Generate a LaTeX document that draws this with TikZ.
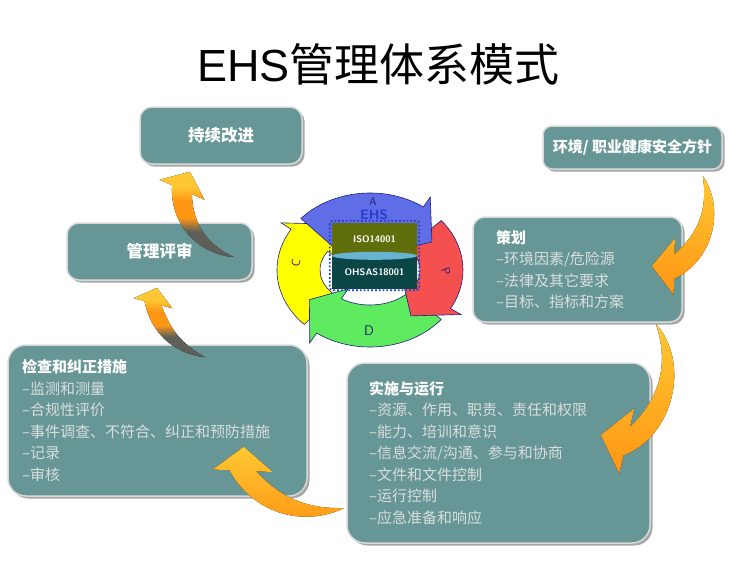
\documentclass[tikz,border=0pt]{standalone}
\usepackage{fontspec}
\setmainfont{Liberation Sans}
\newfontfamily\cjk{Noto Sans CJK SC}
\usepackage{tikz}
\usetikzlibrary{calc}
\usetikzlibrary{shadows}
\definecolor{boxteal}{RGB}{102,150,150}
\definecolor{bodytext}{RGB}{218,222,222}
\definecolor{swyellow}{RGB}{255,200,50}
\definecolor{sworange}{RGB}{255,150,20}
\definecolor{swgray}{RGB}{95,95,90}
\definecolor{ringblue}{RGB}{95,110,230}
\definecolor{ringred}{RGB}{245,80,80}
\definecolor{ringgreen}{RGB}{95,235,95}
\definecolor{ringyellow}{RGB}{255,255,0}
\definecolor{ringline}{RGB}{30,30,120}
\definecolor{isodark}{RGB}{95,110,10}
\definecolor{isolight}{RGB}{185,205,60}
\definecolor{ohsasdark}{RGB}{10,70,70}
\definecolor{ohsaslight}{RGB}{50,170,170}
\definecolor{ehsblue}{RGB}{40,60,200}
\pgfdeclareverticalshading{swooshgray}{100bp}{color(0bp)=(swgray); color(25bp)=(swgray);
  color(40bp)=(swgray); color(48bp)=(sworange); color(58bp)=(sworange); color(66bp)=(swyellow);
  color(75bp)=(swyellow); color(100bp)=(swyellow)}

\tikzset{
  box/.style={draw=gray!30, line width=1.5pt, fill=boxteal, rounded corners=12pt,
    text=white, font=\cjk\fontsize{15}{21.5}\selectfont,
    drop shadow={shadow xshift=2.5pt, shadow yshift=-2.5pt, fill=black, opacity=0.35}},
  ring/.style={draw=ringline, line width=0.6pt},
  ringlabel/.style={text=ringline, font=\sffamily\fontsize{12}{12}\selectfont, inner sep=0pt},
  swoosh/.style={top color=swyellow, bottom color=sworange},
  swooshdark/.style={shading=swooshgray}
}

% ring arrow: colour, start angle, end angle, tip angle
\newcommand{\ringarrow}[4]{%
  \filldraw[ring, fill=#1] ($(c)+(#2:93 and 77)$) arc[start angle=#2, end angle=#3, x radius=93, y radius=77]
    -- ($(c)+(#3:105 and 89)$) -- ($(c)+(#4:71.5 and 56)$) -- ($(c)+(#3:38 and 23)$)
    -- ($(c)+(#3:50 and 35)$) arc[start angle=#3, end angle=#2, x radius=50, y radius=35] -- cycle;
}
% curved block arrow: style, tail, head base, tip, outer bend, inner bend
\newcommand{\bigswoosh}[6]{%
  \fill[#1] (#2) to[bend left=#5] ($(#3)!0.55!90:(#4)$) -- ($(#3)!1.25!90:(#4)$) -- (#4)
    -- ($(#3)!1.25!-90:(#4)$) -- ($(#3)!0.55!-90:(#4)$) to[bend right=#6] (#2) -- cycle;
}

\begin{document}
\begin{tikzpicture}[x=1pt,y=-1pt]
  \useasboundingbox (0,0) rectangle (750,560);

  \node[font=\fontsize{45}{50}\selectfont] (title) at (378.5,64) {EHS{\cjk 管理体系模式}};

  \coordinate (c) at (370,270);
  \ringarrow{ringyellow}{135}{212}{235}
  \ringarrow{ringgreen}{40}{125}{148}
  \ringarrow{ringred}{-40}{30}{55}
  \ringarrow{ringblue}{222}{305}{330}

  \node[ringlabel, font=\sffamily\fontsize{11}{11}\selectfont] (la) at (373,201.5) {A};
  \node[ringlabel, rotate=-70] (lp) at (446,272) {P};
  \node[ringlabel, font=\sffamily\fontsize{14}{14}\selectfont] (ld) at (369,331) {D};
  \node[ringlabel, rotate=80] (lc) at (296,263) {C};

  \node[minimum width=85, minimum height=33, inner sep=0pt, left color=isodark, middle color=isolight,
    right color=isodark, text=white, font=\sffamily\bfseries\fontsize{9.5}{10}\selectfont] (iso) at (374.5,239.5) {ISO14001};
  \node[minimum width=85, minimum height=32, inner sep=0pt, left color=ohsasdark, middle color=ohsaslight,
    right color=ohsasdark, text=white, font=\sffamily\bfseries\fontsize{9.5}{10}\selectfont] (ohsas) at (374.5,272) {OHSAS18001};
  \fill[cyan!50!teal!70] (ohsas.north) ellipse[x radius=42.5, y radius=4];
  \draw[ehsblue, dotted, line width=1.8pt, rounded corners=3pt] ($(iso.north west)+(-2,-2)$) rectangle ($(ohsas.south east)+(2,2)$);
  \node[text=ehsblue, font=\sffamily\bfseries\fontsize{13.5}{14}\selectfont, inner sep=0pt] (ehs) at (374,214.5) {EHS};

  \node[box, minimum width=162, minimum height=57, font=\cjk\bfseries\fontsize{16.5}{20}\selectfont] (improve) at (221,135.5) {持续改进};
  \node[box, minimum width=185, minimum height=57, font=\cjk\bfseries\fontsize{16.5}{20}\selectfont] (review) at (159.5,251.5) {管理评审};
  \node[box, minimum width=179, minimum height=43, rounded corners=9pt, font=\cjk\bfseries\fontsize{15}{20}\selectfont] (policy) at (632.5,147.5) {环境/ 职业健康安全方针};
  \node[box, text width=163pt, inner xsep=23pt, minimum height=105, align=left] (plan) at (577.5,269.5) {\textbf{策划}\\
    \color{bodytext}–环境因素/危险源\\
    –法律及其它要求\\
    –目标、指标和方案};
  \node[box, text width=271pt, inner xsep=14pt, minimum height=151, align=left, rounded corners=18pt] (check) at (157.5,420.5) {\textbf{检查和纠正措施}\\
    \color{bodytext}–监测和测量\\
    –合规性评价\\
    –事件调查、不符合、纠正和预防措施\\
    –记录\\
    –审核};
  \node[box, text width=259pt, inner xsep=22pt, minimum height=180, align=left, rounded corners=18pt] (do) at (498.5,453) {\textbf{实施与运行}\\
    \color{bodytext}–资源、作用、职责、责任和权限\\
    –能力、培训和意识\\
    –信息交流/沟通、参与和协商\\
    –文件和文件控制\\
    –运行控制\\
    –应急准备和响应};

  \coordinate (s1tail) at ($(policy.south east)+(-20,6)$);
  \coordinate (s1base) at ($(plan.east)+(-8.5,-3)$);
  \coordinate (s1tip) at ($(plan.east)+(-31,-3.5)$);
  \coordinate (s2tail) at ($(plan.south east)+(-27,1)$);
  \coordinate (s2base) at ($(do.east)+(-24,-12)$);
  \coordinate (s2tip) at ($(do.east)+(-50,-18)$);
  \coordinate (s3tail) at ($(do.west)+(-2,55)$);
  \coordinate (s3base) at ($(check.south east)+(-65,-26)$);
  \coordinate (s3tip) at ($(check.south east)+(-64,-50)$);
  \coordinate (s4tail) at ($(check.north)+(47.5,13)$);
  \coordinate (s4base) at ($(review.south)+(-6.5,22.5)$);
  \coordinate (s4tip) at ($(review.south)+(-2.5,7)$);
  \coordinate (s5tail) at ($(review.east)+(-19,5.5)$);
  \coordinate (s5base) at ($(improve.south)+(-39,25)$);
  \coordinate (s5tip) at ($(improve.south)+(-31,7)$);

  \bigswoosh{swoosh}{s1tail}{s1base}{s1tip}{50}{29}
  \bigswoosh{swoosh}{s2tail}{s2base}{s2tip}{56}{33}
  \bigswoosh{swoosh}{s3tail}{s3base}{s3tip}{44}{24}
  \bigswoosh{swooshdark}{s4tail}{s4base}{s4tip}{36}{20}
  \bigswoosh{swooshdark}{s5tail}{s5base}{s5tip}{45}{32}
\end{tikzpicture}
\end{document}
